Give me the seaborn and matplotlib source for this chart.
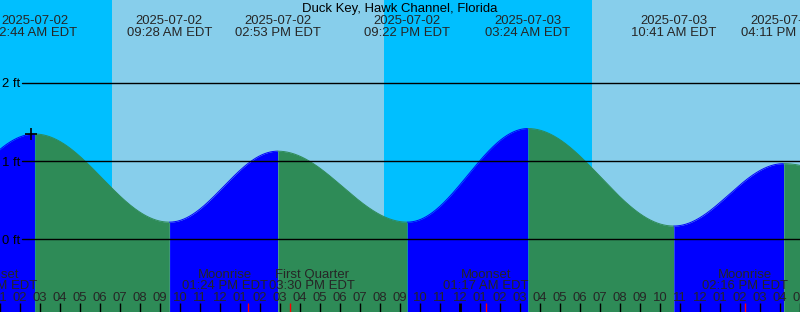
import numpy as np
import pandas as pd
import matplotlib
matplotlib.use("Agg")
import matplotlib.pyplot as plt
from matplotlib.transforms import blended_transform_factory
import seaborn as sns

# ---------------- data (hours since 2025-07-02 00:00 EDT) ----------------
title = "Duck Key, Hawk Channel, Florida"
# tide extremes (first and last are estimated off-screen extremes)
tide_times = [-3.5, 2.733, 9.467, 14.883, 21.367, 27.400, 34.683, 40.183, 46.9]
tide_levels = [0.25, 1.35, 0.22, 1.13, 0.22, 1.42, 0.17, 0.97, 0.35]
tide_dates = ["", "2025-07-02", "2025-07-02", "2025-07-02", "2025-07-02",
              "2025-07-03", "2025-07-03", "2025-07-03", ""]
tide_clock = ["", "02:44 AM EDT", "09:28 AM EDT", "02:53 PM EDT", "09:22 PM EDT",
              "03:24 AM EDT", "10:41 AM EDT", "04:11 PM EDT", ""]

# daylight intervals (sunrise, sunset)
day_start = [6.6, 30.6]
day_end = [20.2, 44.2]

# moon events
moon_names = ["Moonset", "Moonrise", "First Quarter", "Moonset", "Moonrise"]
moon_times = [0.72, 13.40, 15.50, 25.283, 38.267]
moon_clock = ["12:43 AM EDT", "01:24 PM EDT", "03:30 PM EDT", "01:17 AM EDT", "02:16 PM EDT"]

# current-time marker
now_time = 2.53
now_level = 1.35

y_ticks = [0, 1, 2]
y_tick_labels = ["0 ft", "1 ft", "2 ft"]

# ---------------- layout / style ----------------
W, H = 800, 312
XMIN, XMAX = 1.0, 41.0
YMIN, YMAX = -0.932, 3.068
moon_label_x = [0.72, 12.25, 16.62, 25.283, 38.267]  # label centres (shifted to avoid overlap)

NIGHT = "#00BFFF"
DAY = "#87CEEB"
RISE = "#0000FF"
FALL = "#2E8B57"

sns.set_style("white")
plt.rcParams["font.family"] = ["Liberation Sans", "DejaVu Sans"]
FS = 9.45

fig = plt.figure(figsize=(W / 100, H / 100), dpi=100)
ax = fig.add_axes([0, 0, 1, 1])
ax.axis("off")
tr = blended_transform_factory(ax.transData, ax.transAxes)


def yp(pix):
    return 1 - pix / H


# background: night everywhere, day spans on top
ax.axvspan(XMIN - 5, XMAX + 5, color=NIGHT, lw=0, zorder=0)
for s, e in zip(day_start, day_end):
    ax.axvspan(s, e, color=DAY, lw=0, zorder=0.5)

# tide curve through the extremes (cosine-shaped between high and low waters)
t = np.linspace(XMIN - 0.1, XMAX + 0.1, 3000)
tt = np.array(tide_times)
ll = np.array(tide_levels)
idx = np.clip(np.searchsorted(tt, t) - 1, 0, len(tt) - 2)
frac = (t - tt[idx]) / (tt[idx + 1] - tt[idx])
level = ll[idx] + (ll[idx + 1] - ll[idx]) * (1 - np.cos(np.pi * frac)) / 2

for i in range(len(tt) - 1):
    m = (t >= tt[i]) & (t <= tt[i + 1])
    if not m.any():
        continue
    col = RISE if ll[i + 1] > ll[i] else FALL
    ax.fill_between(t[m], YMIN - 1, level[m], color=col, lw=0, zorder=1)
    seg = pd.DataFrame({"t": t[m], "h": level[m]})
    sns.lineplot(data=seg, x="t", y="h", color=col, lw=0.7, ax=ax, zorder=1.2,
                 estimator=None, sort=False)

# grid lines and level labels
ybase = {0: 244.3, 1: 165.5, 2: 87.3}
for v, lab in zip(y_ticks, y_tick_labels):
    ax.axhline(v, xmin=22 / W, xmax=1, color="black", lw=1, zorder=3)
    ax.text(2 / W, yp(ybase[v]), lab, transform=ax.transAxes, ha="left",
            va="baseline", fontsize=FS, color="black", zorder=4)

# current-time marker
ax.plot([now_time], [now_level], marker="+", ms=9, mew=1.2, color="black", zorder=5)

# title and tide extreme labels
ax.text(0.5, yp(12), title, transform=ax.transAxes, ha="center", va="baseline",
        fontsize=FS, color="black", zorder=6)
for tm, d, c in zip(tide_times, tide_dates, tide_clock):
    if not d:
        continue
    ax.text(tm, yp(23.5), d, transform=tr, ha="center", va="baseline", fontsize=FS, zorder=6)
    ax.text(tm, yp(36), c, transform=tr, ha="center", va="baseline", fontsize=FS, zorder=6)

# moon labels
for name, lx, c in zip(moon_names, moon_label_x, moon_clock):
    ax.text(lx, yp(278.3), name, transform=tr, ha="center", va="baseline", fontsize=FS, zorder=6)
    ax.text(lx, yp(289.3), c, transform=tr, ha="center", va="baseline", fontsize=FS, zorder=6)

# hour ticks and labels
hours = np.arange(1, 42)
for hh in hours:
    lab = f"{(hh - 1) % 12 + 1:02d}"
    ax.text(hh, yp(300.8), lab, transform=tr, ha="center", va="baseline", fontsize=FS, zorder=6)
    lw = 2 if hh % 24 == 0 else 1
    ax.plot([hh, hh], [yp(303), yp(313)], transform=tr, color="black", lw=lw,
            solid_capstyle="butt", zorder=6)
for mt in moon_times:
    ax.plot([mt, mt], [yp(303), yp(313)], transform=tr, color="red", lw=1,
            solid_capstyle="butt", zorder=6)

ax.set_xlim(XMIN, XMAX)
ax.set_ylim(YMIN, YMAX)
fig.savefig("out.png", dpi=100)
